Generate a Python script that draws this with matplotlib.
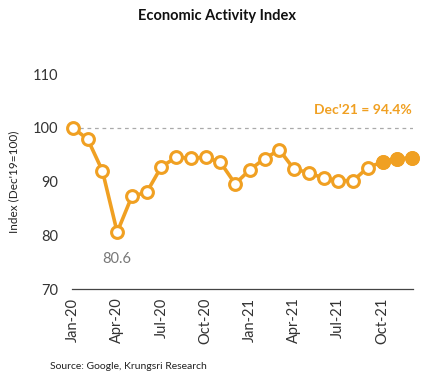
import matplotlib
matplotlib.use('Agg')
import matplotlib.pyplot as plt

months = ['Jan-20', 'Feb-20', 'Mar-20', 'Apr-20', 'May-20', 'Jun-20', 'Jul-20', 'Aug-20',
          'Sep-20', 'Oct-20', 'Nov-20', 'Dec-20', 'Jan-21', 'Feb-21', 'Mar-21', 'Apr-21',
          'May-21', 'Jun-21', 'Jul-21', 'Aug-21', 'Sep-21', 'Oct-21', 'Nov-21', 'Dec-21']
index_vals = [100.0, 97.9, 92.0, 80.6, 87.3, 88.0, 92.8, 94.5, 94.4, 94.5, 93.6, 89.6,
              92.2, 94.3, 95.9, 92.3, 91.7, 90.6, 90.2, 90.2, 92.6, 93.7, 94.3, 94.4]
tick_labels = ['Jan-20', 'Apr-20', 'Jul-20', 'Oct-20', 'Jan-21', 'Apr-21', 'Jul-21', 'Oct-21']
n_filled = 3  # last three months drawn as solid dots

plt.rcParams['font.family'] = ['Lato', 'DejaVu Sans']
orange = '#F0A022'

fig = plt.figure(figsize=(4.35, 3.82), dpi=100)
ax = fig.add_axes([0.166, 0.243, 0.783, 0.563])

x = list(range(len(months)))
ax.axhline(100, color='#AAAAAA', lw=0.9, ls=(0, (3, 3)), zorder=1)
ax.plot(x, index_vals, color=orange, lw=2.6, marker='o', ms=8.5,
        mfc='white', mec=orange, mew=2.2, zorder=3, clip_on=False)
ax.plot(x[-n_filled:], index_vals[-n_filled:], ls='none', marker='o', ms=9.5,
        mfc=orange, mec=orange, zorder=4, clip_on=False)

ax.set_ylim(70, 110)
ax.set_yticks([70, 80, 90, 100, 110])
ax.set_xlim(-0.05, len(months) - 0.95)
ax.set_xticks([months.index(m) for m in tick_labels])
ax.set_xticklabels(tick_labels, rotation=90)
ax.tick_params(axis='both', length=0, labelsize=10.5, colors='#333333')
ax.tick_params(axis='y', pad=10)
ax.tick_params(axis='x', pad=6)
for s in ['top', 'right', 'left']:
    ax.spines[s].set_visible(False)
ax.spines['bottom'].set_color('#444444')
ax.spines['bottom'].set_linewidth(0.9)

ax.set_ylabel("Index (Dec'19=100)", fontsize=8.5, color='#222222', labelpad=10)

i_min = index_vals.index(min(index_vals))
ax.annotate(f'{index_vals[i_min]:.1f}', (x[i_min], index_vals[i_min]), xytext=(0, -19),
            textcoords='offset points', ha='center', va='center', fontsize=10.5, color='#777777')
ax.text(len(months) - 1, 102.2, f"Dec'21 = {index_vals[-1]:.1f}%", ha='right', va='bottom',
        fontsize=10, color=orange, fontweight='bold')

fig.text(0.5, 0.958, 'Economic Activity Index', ha='center', va='center',
         fontsize=10.5, fontweight='bold', color='#111111')
fig.text(0.115, 0.04, 'Source: Google, Krungsri Research', ha='left', va='center',
         fontsize=7.5, color='#222222')

fig.savefig('out.png', dpi=100)
